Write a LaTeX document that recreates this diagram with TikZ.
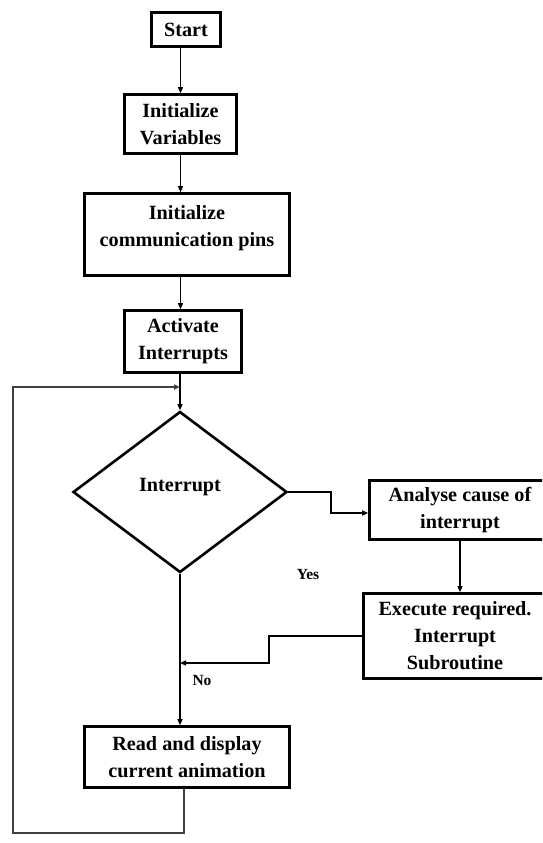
\documentclass[tikz,border=0pt]{standalone}
\usepackage{fontspec}
\setmainfont{Liberation Serif}
\usetikzlibrary{shapes.geometric,arrows.meta}
\begin{document}
\begin{tikzpicture}[x=1pt,y=-1pt,
  box/.style={draw, rectangle, line width=2.6pt, align=center, inner sep=0pt,
    font=\fontsize{20.2}{27}\selectfont\bfseries},
  dec/.style={draw, diamond, line width=2.6pt, inner sep=0pt, aspect=1.33},
  txt/.style={align=center, inner sep=0pt, font=\fontsize{20.2}{27}\selectfont\bfseries},
  lbl/.style={inner sep=0pt, font=\fontsize{15.5}{18}\selectfont\bfseries},
  conn/.style={line width=1.3pt, -{Triangle[length=6pt,width=5pt]}},
  loopline/.style={line width=1.8pt, draw=black!75, -{Triangle[length=6pt,width=5pt]}}]
\path[use as bounding box, clip] (0,0) rectangle (542,843);
\fill[white] (0,0) rectangle (542,843);

\node[box, minimum width=69pt, minimum height=34pt] (start) at (186,29.5) {Start};
\node[box, minimum width=112pt, minimum height=59pt] (var) at (180.5,124) {Initialize\\Variables};
\node[box, minimum width=205pt, minimum height=82pt] (comm) at (187,234.5) {};
\node[txt] (commtxt) at ([yshift=6pt]comm.center) {Initialize\\communication pins};
\node[box, minimum width=117pt, minimum height=62pt] (act) at (183,341.5) {Activate\\Interrupts};
\node[dec, minimum width=214pt, minimum height=161pt] (dia) at (180,492) {};
\node[txt] (diatxt) at ([yshift=5pt]dia.center) {Interrupt};
\node[box, minimum width=181pt, minimum height=59pt] (analyse) at (460,510) {Analyse cause of\\interrupt};
\node[box, minimum width=183pt, minimum height=85pt] (exec) at (455,636) {Execute required.\\Interrupt\\Subroutine};
\node[box, minimum width=205pt, minimum height=61pt] (read) at (187,757) {Read and display\\current animation};

\node[lbl] (yes) at (308,574) {Yes};
\node[lbl] (no) at (202,680) {No};

\coordinate (r1) at (331,513);
\coordinate (e1) at (269,663);
\coordinate (join) at (180,663);
\coordinate (l1) at (184,833);
\coordinate (l2) at (13,387);

\draw[conn] (start.south -| var.north) -- (var.north);
\draw[conn] (var.south) -- (var.south |- comm.north);
\draw[conn] (var.south |- comm.south) -- (var.south |- act.north);
\draw[conn] (act.south -| dia.north) -- (dia.north);
\draw[conn] (dia.east) -| (r1) -- (r1 -| analyse.west);
\draw[conn] (analyse.south) -- (analyse.south |- exec.north);
\draw[conn] (exec.west) -| (e1) -- (join);
\draw[conn] (dia.south) -- (dia.south |- read.north);
\draw[loopline] (read.south -| l1) -- (l1) -| (l2) -- (l2 -| dia.north);
\end{tikzpicture}
\end{document}
